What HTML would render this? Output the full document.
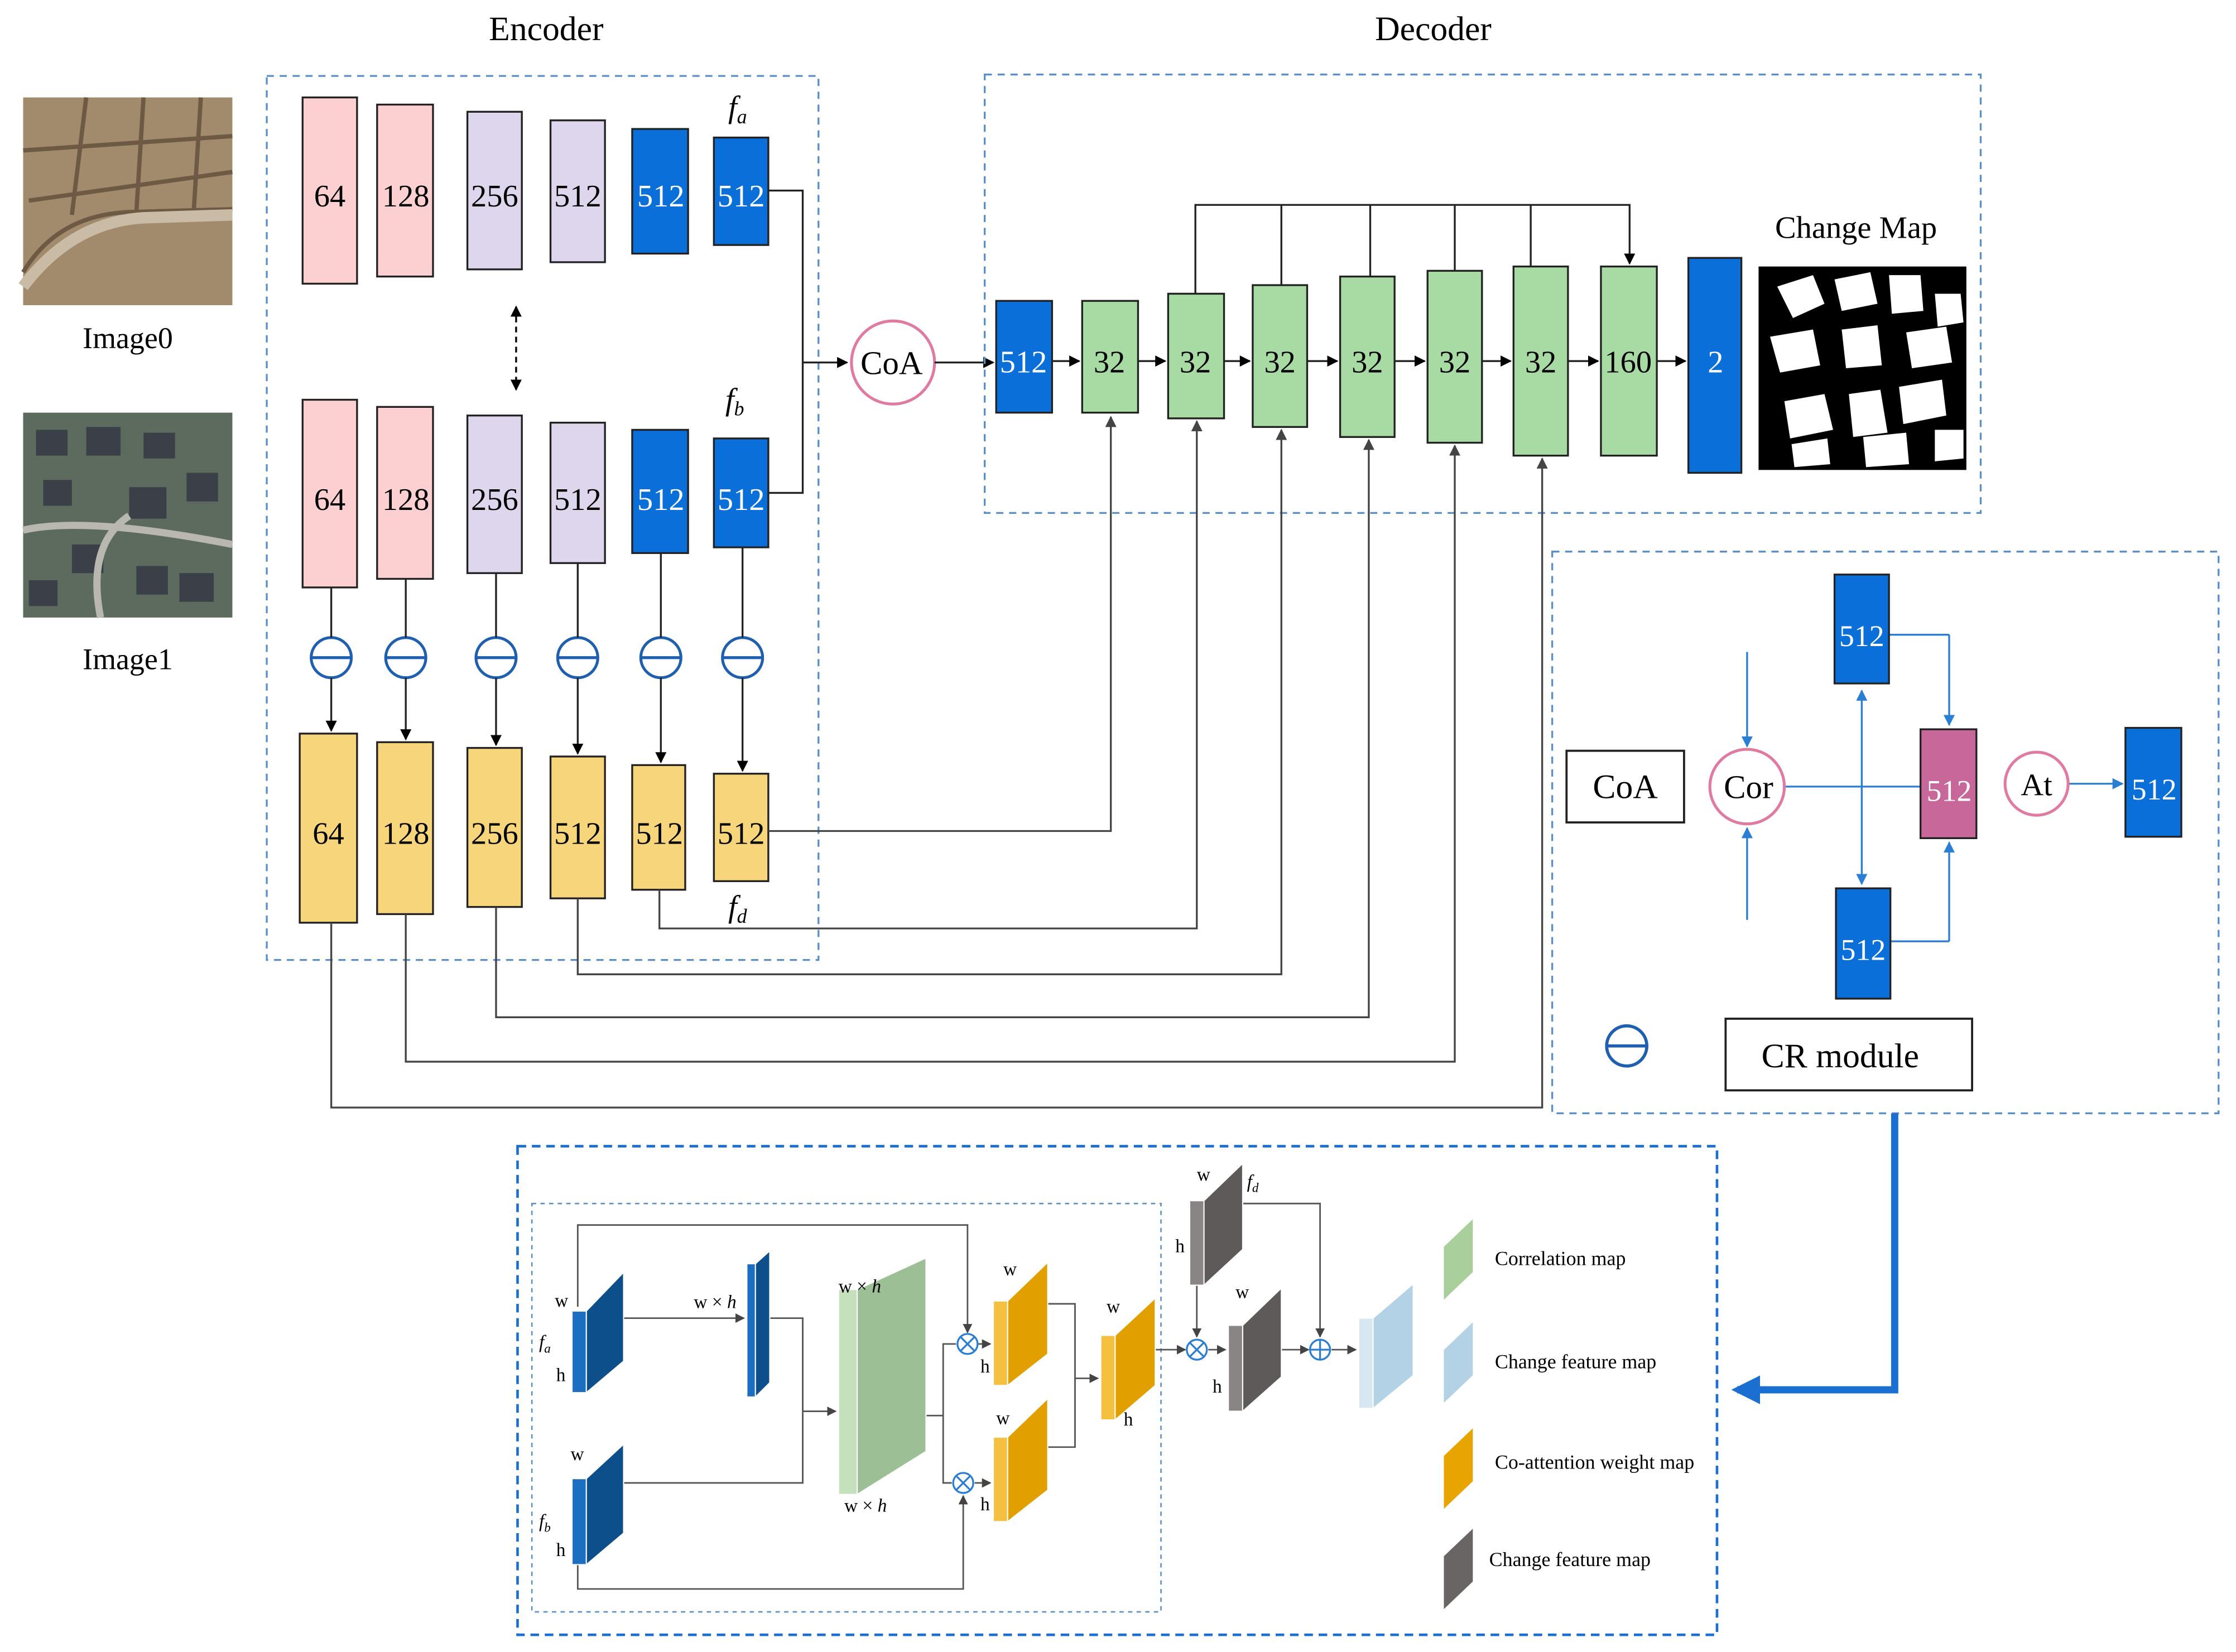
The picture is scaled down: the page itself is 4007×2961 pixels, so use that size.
<!DOCTYPE html>
<html><head><meta charset="utf-8"><style>html,body{margin:0;padding:0;background:#fff}svg{display:block;font-family:"Liberation Serif",serif}</style></head>
<body>
<svg width="4007" height="2961" viewBox="0 0 1560 1153" xmlns="http://www.w3.org/2000/svg">
<defs>
<marker id="a" viewBox="0 0 10 10" refX="9" refY="5" markerWidth="6" markerHeight="6" orient="auto-start-reverse"><path d="M0,0L10,5L0,10z" fill="#000"/></marker>
<marker id="g" viewBox="0 0 10 10" refX="9" refY="5" markerWidth="6" markerHeight="6" orient="auto-start-reverse"><path d="M0,0L10,5L0,10z" fill="#444"/></marker>
<marker id="b" viewBox="0 0 10 10" refX="9" refY="5" markerWidth="6" markerHeight="6" orient="auto-start-reverse"><path d="M0,0L10,5L0,10z" fill="#2a7fd4"/></marker>
<marker id="B" viewBox="0 0 10 10" refX="8" refY="5" markerWidth="4" markerHeight="4" orient="auto"><path d="M0,0L10,5L0,10z" fill="#1a6fd0"/></marker>
</defs>
<rect width="1560" height="1153" fill="#fff"/>
<text x="381" y="28" font-size="24" text-anchor="middle">Encoder</text>
<text x="1000" y="28" font-size="24" text-anchor="middle">Decoder</text>

<rect x="16" y="68" width="146" height="145" fill="#a28a6c"/>
<path d="M16,190 Q40,150 90,148 L162,146 M60,68 L50,150 M20,140 L162,120 M100,68 L95,148 M140,68 L135,148 M16,105 L162,95" stroke="#6e5a44" stroke-width="3" fill="none"/>
<path d="M16,200 Q50,155 100,152 L162,150" stroke="#c9bba6" stroke-width="8" fill="none"/>
<text x="89" y="243" font-size="21" text-anchor="middle">Image0</text>
<rect x="16" y="288" width="146" height="143" fill="#5d6b5e"/>
<g fill="#3a3f48"><rect x="25" y="300" width="22" height="18"/><rect x="60" y="298" width="24" height="20"/><rect x="100" y="302" width="22" height="18"/><rect x="130" y="330" width="22" height="20"/><rect x="30" y="335" width="20" height="18"/><rect x="90" y="340" width="26" height="22"/><rect x="50" y="380" width="22" height="20"/><rect x="95" y="395" width="22" height="20"/><rect x="125" y="400" width="24" height="20"/><rect x="20" y="405" width="20" height="18"/></g>
<path d="M16,370 Q60,360 162,380 M70,431 Q60,380 90,360" stroke="#b8b8b0" stroke-width="5" fill="none"/>
<text x="89" y="467" font-size="21" text-anchor="middle">Image1</text>

<rect x="186" y="53" width="385" height="617" fill="none" stroke="#5b8fc9" stroke-width="1.3" stroke-dasharray="5,4"/>
<g stroke="#222" stroke-width="1.3">
<rect x="211" y="68" width="38" height="130" fill="#fcd0d0"/><rect x="263" y="73" width="39" height="120" fill="#fcd0d0"/>
<rect x="326" y="78" width="38" height="110" fill="#ded6ec"/><rect x="384" y="84" width="38" height="99" fill="#ded6ec"/>
<rect x="441" y="90" width="39" height="87" fill="#0a6fd8"/><rect x="498" y="96" width="38" height="75" fill="#0a6fd8"/>
<rect x="211" y="279" width="38" height="131" fill="#fcd0d0"/><rect x="263" y="284" width="39" height="120" fill="#fcd0d0"/>
<rect x="326" y="290" width="38" height="110" fill="#ded6ec"/><rect x="384" y="295" width="38" height="98" fill="#ded6ec"/>
<rect x="441" y="300" width="39" height="86" fill="#0a6fd8"/><rect x="498" y="306" width="38" height="76" fill="#0a6fd8"/>
<rect x="209" y="512" width="40" height="132" fill="#f7d57a"/><rect x="263" y="518" width="39" height="120" fill="#f7d57a"/>
<rect x="326" y="522" width="38" height="111" fill="#f7d57a"/><rect x="384" y="528" width="38" height="99" fill="#f7d57a"/>
<rect x="441" y="534" width="37" height="87" fill="#f7d57a"/><rect x="498" y="540" width="38" height="75" fill="#f7d57a"/>
</g>
<g font-size="22" text-anchor="middle" stroke="none">
<text x="230" y="144">64</text><text x="283" y="144">128</text><text x="345" y="144">256</text><text x="403" y="144">512</text><text x="461" y="144" fill="#fff">512</text><text x="517" y="144" fill="#fff">512</text>
<text x="230" y="356">64</text><text x="283" y="356">128</text><text x="345" y="356">256</text><text x="403" y="356">512</text><text x="461" y="356" fill="#fff">512</text><text x="517" y="356" fill="#fff">512</text>
<text x="229" y="589">64</text><text x="283" y="589">128</text><text x="345" y="589">256</text><text x="403" y="589">512</text><text x="460" y="589">512</text><text x="517" y="589">512</text>
</g>
<g font-size="22" font-style="italic"><text x="508" y="82">f<tspan font-size="14" dy="4">a</tspan></text><text x="506" y="286">f<tspan font-size="14" dy="4">b</tspan></text><text x="508" y="640">f<tspan font-size="14" dy="4">d</tspan></text></g>
<line x1="360" y1="214" x2="360" y2="272" stroke="#000" stroke-width="1.3" stroke-dasharray="4,3" marker-start="url(#a)" marker-end="url(#a)"/>
<g stroke="#1f5fb0" stroke-width="2" fill="none">
<circle cx="231" cy="459" r="14"/><circle cx="283" cy="459" r="14"/><circle cx="346" cy="459" r="14"/><circle cx="403" cy="459" r="14"/><circle cx="461" cy="459" r="14"/><circle cx="518" cy="459" r="14"/>
<path d="M217,459h28M269,459h28M332,459h28M389,459h28M447,459h28M504,459h28"/>
</g>
<g stroke="#222" stroke-width="1.3" fill="none">
<path d="M231,410V445M283,404V445M346,400V445M403,393V445M461,386V445M518,382V445"/>
<path d="M536,133H560V253M536,344H560V253"/>
</g>
<g stroke="#222" stroke-width="1.3" fill="none" marker-end="url(#a)">
<path d="M231,473V510"/><path d="M283,473V516"/><path d="M346,473V520"/><path d="M403,473V526"/><path d="M461,473V532"/><path d="M518,473V538"/>
<path d="M560,253H591"/>
</g>
<circle cx="623" cy="253" r="29" fill="#fff" stroke="#e07aa0" stroke-width="2"/>
<text x="622" y="261" font-size="23" text-anchor="middle">CoA</text>
<line x1="652" y1="253" x2="693" y2="253" stroke="#222" stroke-width="1.3" marker-end="url(#a)"/>

<rect x="687" y="52" width="695" height="306" fill="none" stroke="#5b8fc9" stroke-width="1.3" stroke-dasharray="5,4"/>
<g stroke="#222" stroke-width="1.3">
<rect x="695" y="210" width="39" height="78" fill="#0a6fd8"/>
<rect x="755" y="210" width="39" height="78" fill="#a8dba4"/>
<rect x="815" y="205" width="39" height="87" fill="#a8dba4"/>
<rect x="874" y="199" width="38" height="99" fill="#a8dba4"/>
<rect x="935" y="193" width="38" height="112" fill="#a8dba4"/>
<rect x="996" y="189" width="38" height="120" fill="#a8dba4"/>
<rect x="1056" y="186" width="38" height="132" fill="#a8dba4"/>
<rect x="1117" y="186" width="39" height="132" fill="#a8dba4"/>
<rect x="1178" y="180" width="37" height="150" fill="#0a6fd8"/>
</g>
<g font-size="22" text-anchor="middle">
<text x="714" y="260" fill="#fff">512</text><text x="774" y="260">32</text><text x="834" y="260">32</text><text x="893" y="260">32</text><text x="954" y="260">32</text><text x="1015" y="260">32</text><text x="1075" y="260">32</text><text x="1136" y="260">160</text><text x="1197" y="260" fill="#fff">2</text>
</g>
<g stroke="#222" stroke-width="1.3" fill="none" marker-end="url(#a)">
<path d="M734,252H753"/><path d="M794,252H813"/><path d="M854,252H872"/><path d="M912,252H933"/><path d="M973,252H994"/><path d="M1034,252H1054"/><path d="M1094,252H1115"/><path d="M1156,252H1176"/>
<path d="M834,205V143H1137V184"/>
</g>
<path d="M894,143V199M956,143V193M1015,143V189M1068,143V186" stroke="#222" stroke-width="1.3"/>
<text x="1295" y="166" font-size="22" text-anchor="middle">Change Map</text>
<rect x="1227" y="186" width="145" height="142" fill="#000"/>
<g fill="#fff">
<path d="M1240,200l25,-8l8,20l-22,10z M1280,195l25,-5l5,22l-25,5z M1318,192l22,0l2,25l-22,2z M1350,205l18,0l2,20l-18,3z M1235,235l30,-5l5,25l-28,5z M1285,230l25,-3l3,28l-25,2z M1330,232l28,-4l4,25l-28,4z M1245,280l28,-5l6,25l-30,6z M1290,275l22,-3l5,30l-24,3z M1325,270l30,-5l3,25l-30,6z M1250,310l25,-4l2,18l-25,2z M1300,305l30,-3l2,22l-30,2z M1350,300l20,0l0,20l-20,2z"/>
</g>
<g stroke="#444" stroke-width="1.3" fill="none" marker-end="url(#g)">
<path d="M536,580H775V291"/>
<path d="M460,621V648H835V294"/>
<path d="M403,627V680H894V300"/>
<path d="M346,633V710H955V307"/>
<path d="M283,638V741H1015V311"/>
<path d="M231,644V773H1076V320"/>
</g>

<rect x="1083" y="385" width="465" height="392" fill="none" stroke="#5b8fc9" stroke-width="1.3" stroke-dasharray="5,4"/>
<rect x="1093" y="524" width="82" height="50" fill="#fff" stroke="#222" stroke-width="1.5"/>
<text x="1134" y="557" font-size="24" text-anchor="middle">CoA</text>
<g stroke="#2a7fd4" stroke-width="1.3" fill="none">
<path d="M1245,549H1340M1318,443H1360M1319,657H1360"/>
</g>
<g stroke="#2a7fd4" stroke-width="1.3" fill="none" marker-end="url(#b)">
<path d="M1219,455V521"/><path d="M1219,642V578"/>
<path d="M1299,549V482"/><path d="M1299,549V617"/>
<path d="M1360,443V506"/><path d="M1360,657V588"/>
<path d="M1443,547H1481"/>
</g>
<circle cx="1219" cy="549" r="26" fill="#fff" stroke="#e07aa0" stroke-width="2"/>
<text x="1220" y="557" font-size="23" text-anchor="middle">Cor</text>
<g stroke="#222" stroke-width="1.3">
<rect x="1280" y="401" width="38" height="76" fill="#0a6fd8"/>
<rect x="1281" y="620" width="38" height="77" fill="#0a6fd8"/>
<rect x="1340" y="509" width="39" height="76" fill="#c8689a"/>
<rect x="1483" y="508" width="39" height="76" fill="#0a6fd8"/>
</g>
<circle cx="1421" cy="547" r="22" fill="#fff" stroke="#e07aa0" stroke-width="2"/>
<text x="1421" y="555" font-size="22" text-anchor="middle">At</text>
<g font-size="21" text-anchor="middle" fill="#fff"><text x="1299" y="451">512</text><text x="1300" y="670">512</text><text x="1360" y="559">512</text><text x="1503" y="558">512</text></g>
<circle cx="1135" cy="730" r="14" fill="none" stroke="#1f5fb0" stroke-width="2.2"/><path d="M1121,730h28" stroke="#1f5fb0" stroke-width="2.2"/>
<rect x="1204" y="711" width="172" height="50" fill="#fff" stroke="#222" stroke-width="1.5"/>
<text x="1284" y="745" font-size="24" text-anchor="middle">CR module</text>
<path d="M1322,777V970H1212" stroke="#1a6fd0" stroke-width="5" fill="none" marker-end="url(#B)"/>

<rect x="361" y="800" width="837" height="341" fill="none" stroke="#1a6fd0" stroke-width="1.8" stroke-dasharray="6,4"/>
<rect x="371" y="840" width="439" height="285" fill="none" stroke="#5b8fc9" stroke-width="1" stroke-dasharray="3,3"/>
<g stroke="#555" stroke-width="1.1" fill="none">
<path d="M537,920H560V985M435,1035H560V985"/>
<path d="M646,988H658V938H667M658,988V1035H664"/>
<path d="M731,910H750V1010H731"/>
</g>
<g stroke="#555" stroke-width="1.1" fill="none" marker-end="url(#g)">
<path d="M435,920H519"/>
<path d="M560,985H583"/>
<path d="M403,912V855H675V930"/>
<path d="M403,1092V1109H672V1044"/>
<path d="M682,938H691"/><path d="M680,1035H691"/>
<path d="M750,962H766"/>
<path d="M806,942H827"/>
<path d="M835,897V933"/>
<path d="M843,942H855"/>
<path d="M894,942H913"/>
<path d="M867,840H921V933"/>
<path d="M929,942H946"/>
</g>
<g stroke="#2a7fd4" stroke-width="1.3" fill="#fff">
<circle cx="675" cy="938" r="7"/><circle cx="672" cy="1035" r="7"/><circle cx="835" cy="942" r="7"/><circle cx="921" cy="942" r="7"/>
</g>
<path d="M670,933l10,10M680,933l-10,10M667,1030l10,10M677,1030l-10,10M830,937l10,10M840,937l-10,10M914,942h14M921,935v14" stroke="#2a7fd4" stroke-width="1.3"/>
<g stroke="#fff" stroke-width="0.8">
<polygon points="399,915 409,915 409,972 399,972" fill="#1c6fc0"/><polygon points="409,915 435,888 435,950 409,972" fill="#0d4f8a"/>
<polygon points="399,1032 409,1032 409,1092 399,1092" fill="#1c6fc0"/><polygon points="409,1032 435,1008 435,1070 409,1092" fill="#0d4f8a"/>
<polygon points="521,882 527,882 527,975 521,975" fill="#1c6fc0"/><polygon points="527,882 537,873 537,965 527,975" fill="#0d4f8a"/>
<polygon points="585,900 598,900 598,1043 585,1043" fill="#c4e0bc"/><polygon points="598,900 646,878 646,1013 598,1043" fill="#9dbf95"/>
<polygon points="693,908 703,908 703,967 693,967" fill="#f5c040"/><polygon points="703,908 731,881 731,945 703,967" fill="#e2a000"/>
<polygon points="693,1003 703,1003 703,1062 693,1062" fill="#f5c040"/><polygon points="703,1003 731,976 731,1040 703,1062" fill="#e2a000"/>
<polygon points="768,932 778,932 778,991 768,991" fill="#f5c040"/><polygon points="778,932 806,906 806,967 778,991" fill="#e2a000"/>
<polygon points="830,838 840,838 840,897 830,897" fill="#8a8585"/><polygon points="840,838 867,812 867,872 840,897" fill="#5f5a5a"/>
<polygon points="857,925 867,925 867,985 857,985" fill="#8a8585"/><polygon points="867,925 894,899 894,961 867,985" fill="#5f5a5a"/>
<polygon points="948,920 958,920 958,983 948,983" fill="#d8e8f2"/><polygon points="958,920 986,896 986,960 958,983" fill="#b3d2e6"/>
<polygon points="1007,870 1028,850 1028,888 1007,908" fill="#a8cf9c"/>
<polygon points="1007,942 1028,922 1028,960 1007,980" fill="#b3d2e6"/>
<polygon points="1007,1016 1028,996 1028,1034 1007,1054" fill="#e8a400"/>
<polygon points="1007,1086 1028,1066 1028,1104 1007,1124" fill="#6a6565"/>
</g>
<g font-size="14">
<text x="1043" y="883">Correlation map</text><text x="1043" y="955">Change feature map</text><text x="1043" y="1025">Co-attention weight map</text><text x="1039" y="1093">Change feature map</text>
</g>
<g font-size="13">
<text x="387" y="912">w</text><text x="388" y="964">h</text><text x="376" y="941" font-style="italic">f<tspan font-size="9" dy="3">a</tspan></text>
<text x="398" y="1019">w</text><text x="388" y="1086">h</text><text x="376" y="1066" font-style="italic">f<tspan font-size="9" dy="3">b</tspan></text>
<text x="484" y="913">w × <tspan font-style="italic">h</tspan></text>
<text x="585" y="902">w × <tspan font-style="italic">h</tspan></text><text x="589" y="1055">w × <tspan font-style="italic">h</tspan></text>
<text x="700" y="890">w</text><text x="684" y="958">h</text><text x="695" y="994">w</text><text x="684" y="1054">h</text>
<text x="772" y="916">w</text><text x="784" y="995">h</text>
<text x="835" y="824">w</text><text x="820" y="874">h</text><text x="870" y="829" font-style="italic">f<tspan font-size="9" dy="3">d</tspan></text>
<text x="862" y="906">w</text><text x="846" y="972">h</text>
</g>
</svg>
</body></html>
